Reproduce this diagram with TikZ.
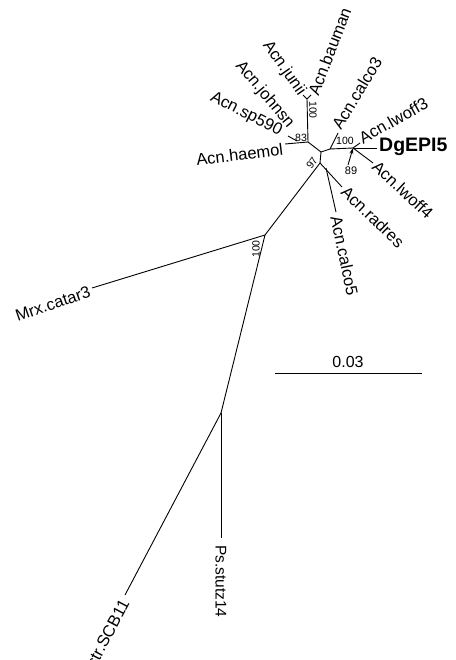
\documentclass[tikz,border=0pt]{standalone}
\usepackage{fontspec}
\setmainfont{Liberation Sans}
\usetikzlibrary{arrows.meta}
\tikzset{
  br/.style={line width=0.9pt},
  leaf/.style={inner sep=0pt, font=\fontsize{16.5}{17}\selectfont},
  boot/.style={inner sep=0pt, font=\fontsize{10.5}{11}\selectfont},
}
\begin{document}
\begin{tikzpicture}[x=1pt,y=-1pt]
\useasboundingbox (0,0) rectangle (455,660);
% internal nodes
\coordinate (nJB) at (307,99);
\coordinate (nA) at (308,142);
\coordinate (n83) at (297,141);
\coordinate (nB) at (321,152);
\coordinate (nC) at (330,149);
\coordinate (nL) at (353,148);
\coordinate (n97) at (320,163);
\coordinate (nR) at (326,168);
\coordinate (n100) at (265,235);
\coordinate (nF) at (221,413);
% tips
\coordinate (tJunii) at (303,95);
\coordinate (tBauman) at (311,95);
\coordinate (tJohnsn) at (288,136);
\coordinate (tHaemol) at (285,144);
\coordinate (tCalco3) at (338,133);
\coordinate (tLwoff3) at (360,143);
\coordinate (tDg) at (377,148);
\coordinate (tLwoff4) at (373,163);
\coordinate (tRadres) at (342,187);
\coordinate (tCalco5) at (336,212);
\coordinate (tMrx) at (92,288);
\coordinate (tPs) at (221,538);
\coordinate (tStr) at (125,595);
% branches
\draw[br] (nJB) -- (tJunii);
\draw[br] (nJB) -- (tBauman);
\draw[br] (nA) -- (nJB);
\draw[br] (nA) -- (tHaemol);
\draw[br] (n83) -- (tJohnsn);
\draw[br] (nA) -- (nB);
\draw[br] (nB) -- (nC);
\draw[br] (nC) -- (tCalco3);
\draw[br] (nC) -- (nL);
\draw[br] (nL) -- (tLwoff3);
\draw[br] (nL) -- (tDg);
\draw[br] (nL) -- (tLwoff4);
\draw[br] (nB) -- (n97);
\draw[br] (n97) -- (tRadres);
\draw[br] (nR) -- (tCalco5);
\draw[br] (n97) -- (n100);
\draw[br] (n100) -- (tMrx);
\draw[br] (n100) -- (nF);
\draw[br] (nF) -- (tPs);
\draw[br] (nF) -- (tStr);
% leaf labels
\node[leaf, anchor=east, rotate=-55] (lJunii) at (302,94) {Acn.junii};
\node[leaf, anchor=west, rotate=69] (lBauman) at (313,95) {Acn.bauman};
\node[leaf, anchor=east, rotate=-50] (lJohnsn) at (291,126) {Acn.johnsn};
\node[leaf, anchor=east, rotate=-27] (lSp) at (281,132) {Acn.sp590};
\node[leaf, anchor=east, rotate=7] (lHaemol) at (283,149) {Acn.haemol};
\node[leaf, anchor=west, rotate=59] (lCalco3) at (336,128) {Acn.calco3};
\node[leaf, anchor=west, rotate=29] (lLwoff3) at (360,139) {Acn.lwoff3};
\node[leaf, anchor=west, font=\fontsize{19.5}{20}\selectfont\bfseries] (lDg) at (379,147) {DgEPI5};
\node[leaf, anchor=west, rotate=-43] (lLwoff4) at (375,164) {Acn.lwoff4};
\node[leaf, anchor=west, rotate=-44] (lRadres) at (344,189) {Acn.radres};
\node[leaf, anchor=west, rotate=-78] (lCalco5) at (336,216) {Acn.calco5};
\node[leaf, anchor=east, rotate=19] (lMrx) at (90,291) {Mrx.catar3};
\node[leaf, anchor=west, rotate=-90, font=\fontsize{15.5}{16}\selectfont] (lPs) at (221,545) {Ps.stutz14};
\node[leaf, anchor=east, rotate=62] (lStr) at (125,601) {str.SCB11};
% bootstrap values
\node[boot, rotate=-90] (b1) at (313,110) {100};
\node[boot] (b2) at (301,138) {83};
\node[boot, rotate=55] (b3) at (312,163) {97};
\node[boot, rotate=90] (b4) at (256,249) {100};
\node[boot] (b5) at (345,141) {100};
\node[boot, font=\fontsize{11}{12}\selectfont] (b6) at (351,171) {89};
\draw[line width=0.9pt, -{Stealth[length=6pt,width=4pt]}] (348,165) -- (nL);
% scale bar
\coordinate (s1) at (275,373);
\coordinate (s2) at (422,373);
\draw[br] (s1) -- (s2);
\node[inner sep=0pt, font=\fontsize{16}{17}\selectfont] (sl) at (348,362) {0.03};
\end{tikzpicture}
\end{document}
